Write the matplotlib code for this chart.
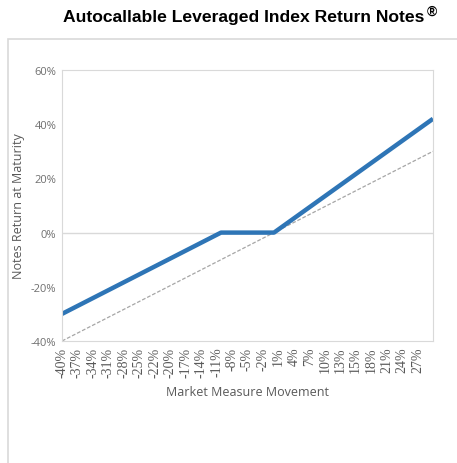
import numpy as np
import matplotlib
matplotlib.use("Agg")
from matplotlib import pyplot as plt
from matplotlib.patches import Rectangle

# data (percent)
market = [-40, -10, 0, 30]
notes_return = [-30, 0, 0, 42]
underlying = [-40, 30]
tick_labels = ["-40%", "-37%", "-34%", "-31%", "-28%", "-25%", "-22%", "-20%",
               "-17%", "-14%", "-11%", "-8%", "-5%", "-2%", "1%", "4%", "7%",
               "10%", "13%", "15%", "18%", "21%", "24%", "27%"]
y_ticks = [-40, -20, 0, 20, 40, 60]

fig = plt.figure(figsize=(4.57, 4.64), dpi=100)

# outer chart frame
fig.patches.append(Rectangle((8 / 457, -0.1), 1.2, (464 - 40) / 464 + 0.1,
                             transform=fig.transFigure, fill=False,
                             edgecolor="#d9d9d9", linewidth=1.2))

fig.text(244 / 457, 0.962, "Autocallable Leveraged Index Return Notes",
         ha="center", va="center", fontsize=12.6, fontweight="bold",
         family="Liberation Sans")
fig.text(427 / 457, 0.974, "®", ha="left", va="center", fontsize=10,
         fontweight="bold", family="Liberation Sans")

ax = fig.add_axes([62 / 457, (464 - 342) / 464, (433 - 62) / 457, (342 - 71) / 464])

ax.plot(underlying, underlying, color="#a6a6a6", linewidth=0.9, linestyle=(0, (3, 1.5)))
ax.plot(market, notes_return, color="#2e75b6", linewidth=3.2, solid_capstyle="butt")
ax.axhline(0, color="#d9d9d9", linewidth=1, zorder=0)

ax.set_xlim(-40, 30)
ax.set_ylim(-40, 60)
ax.set_xticks(np.linspace(-40, 30, len(tick_labels) + 1)[:-1])
ax.set_xticklabels(tick_labels, rotation=90, family="Liberation Serif",
                   fontsize=10, color="#595959")
ax.set_yticks(y_ticks)
ax.set_yticklabels([f"{v}%" for v in y_ticks], family="Open Sans",
                   fontsize=8, color="#6f6f6f")
ax.tick_params(length=0, pad=4)
for s in ax.spines.values():
    s.set_color("#d9d9d9")

ax.set_xlabel("Market Measure Movement", family="Open Sans", fontsize=9,
              color="#595959", labelpad=6)
ax.set_ylabel("Notes Return at Maturity", family="Open Sans", fontsize=9,
              color="#595959", labelpad=4)

fig.savefig("out.png", dpi=100)
